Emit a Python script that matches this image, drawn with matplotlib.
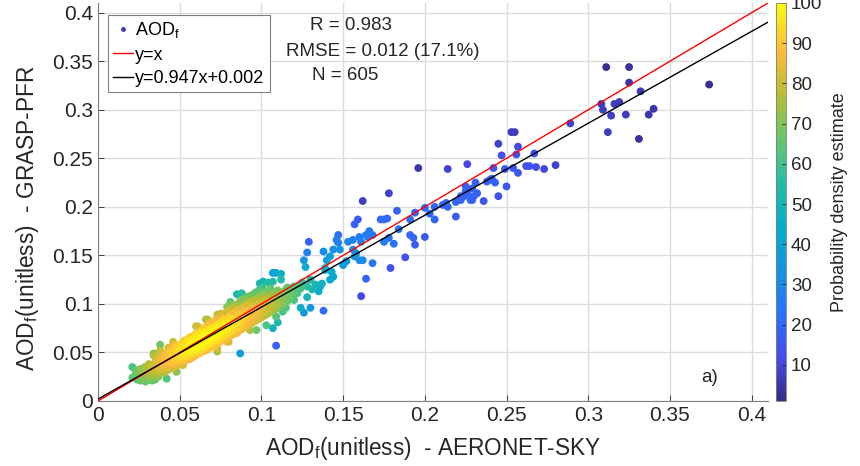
import numpy as np
import matplotlib
matplotlib.use("Agg")
import matplotlib.pyplot as plt
from matplotlib.colors import LinearSegmentedColormap, Normalize
from matplotlib.ticker import FuncFormatter
from matplotlib.lines import Line2D

plt.rcParams['font.family'] = ['Liberation Sans', 'DejaVu Sans']
plt.rcParams['mathtext.fontset'] = 'custom'
plt.rcParams['mathtext.rm'] = 'Liberation Sans'
plt.rcParams['mathtext.it'] = 'Liberation Sans'

# ---------------- data ----------------
# sparse points: AERONET-SKY (x) and GRASP-PFR (y)
sparse_x = [0.374, 0.311, 0.325, 0.325, 0.332, 0.308, 0.309, 0.316, 0.319, 0.314, 0.323, 0.337, 0.340, 0.312, 0.331, 0.289,
            0.253, 0.255, 0.245, 0.257, 0.247, 0.256, 0.267, 0.214, 0.226, 0.242, 0.249, 0.254, 0.257, 0.262, 0.264, 0.268, 0.273, 0.280,
            0.238, 0.240, 0.243, 0.241, 0.231, 0.225, 0.232, 0.230, 0.228, 0.225, 0.224, 0.250, 0.245, 0.236, 0.219, 0.222, 0.211, 0.214, 0.219,
            0.196, 0.178, 0.162, 0.183, 0.194, 0.200, 0.206, 0.213, 0.203, 0.206, 0.222, 0.226, 0.229, 0.229, 0.191, 0.175, 0.177, 0.173,
            0.157, 0.159, 0.166, 0.168, 0.164, 0.165, 0.184, 0.191, 0.193, 0.200, 0.194, 0.181, 0.175, 0.178, 0.160, 0.161, 0.156, 0.153,
            0.147, 0.146, 0.144, 0.148, 0.138, 0.156, 0.158, 0.157, 0.160, 0.162, 0.168, 0.188, 0.179, 0.164, 0.150, 0.152, 0.142, 0.140,
            0.139, 0.161, 0.147,
            0.129, 0.128, 0.126, 0.127, 0.107, 0.109, 0.112, 0.101, 0.104, 0.099, 0.120, 0.122, 0.128, 0.136, 0.135, 0.137, 0.142, 0.144,
            0.143, 0.139, 0.138, 0.124, 0.130, 0.126, 0.115, 0.113, 0.107, 0.103, 0.097, 0.109, 0.088, 0.087, 0.082, 0.067, 0.061, 0.038,
            0.042, 0.023, 0.110, 0.085, 0.035, 0.130, 0.133, 0.131, 0.128, 0.125,
            0.021, 0.024, 0.027, 0.032, 0.036, 0.048, 0.052, 0.062, 0.073, 0.079, 0.034, 0.046, 0.073, 0.079, 0.075, 0.081, 0.091, 0.099,
            0.100, 0.107, 0.112, 0.120, 0.073, 0.080, 0.085, 0.093, 0.109, 0.060, 0.066]
sparse_y = [0.326, 0.344, 0.344, 0.328, 0.319, 0.306, 0.300, 0.306, 0.308, 0.294, 0.295, 0.295, 0.301, 0.277, 0.270, 0.286,
            0.277, 0.277, 0.265, 0.262, 0.253, 0.254, 0.255, 0.239, 0.244, 0.240, 0.239, 0.240, 0.235, 0.242, 0.242, 0.241, 0.239, 0.243,
            0.226, 0.228, 0.225, 0.229, 0.225, 0.221, 0.214, 0.211, 0.207, 0.216, 0.211, 0.221, 0.211, 0.206, 0.205, 0.207, 0.202, 0.200, 0.190,
            0.240, 0.214, 0.206, 0.196, 0.194, 0.199, 0.200, 0.204, 0.193, 0.187, 0.211, 0.214, 0.219, 0.207, 0.187, 0.187, 0.188, 0.187,
            0.182, 0.187, 0.175, 0.171, 0.171, 0.169, 0.177, 0.171, 0.168, 0.169, 0.161, 0.162, 0.164, 0.168, 0.169, 0.164, 0.166, 0.164,
            0.171, 0.166, 0.156, 0.156, 0.154, 0.156, 0.152, 0.149, 0.145, 0.145, 0.142, 0.148, 0.137, 0.126, 0.140, 0.144, 0.149, 0.145,
            0.135, 0.108, 0.163,
            0.164, 0.153, 0.145, 0.138, 0.132, 0.132, 0.131, 0.123, 0.122, 0.121, 0.109, 0.111, 0.107, 0.118, 0.113, 0.121, 0.125, 0.128,
            0.133, 0.137, 0.093, 0.096, 0.096, 0.091, 0.096, 0.092, 0.075, 0.078, 0.073, 0.057, 0.111, 0.049, 0.100, 0.084, 0.077, 0.058,
            0.023, 0.032, 0.081, 0.110, 0.022, 0.125, 0.120, 0.115, 0.118, 0.122,
            0.035, 0.025, 0.022, 0.024, 0.027, 0.030, 0.037, 0.053, 0.051, 0.061, 0.049, 0.061, 0.089, 0.097, 0.090, 0.102, 0.107, 0.113,
            0.121, 0.123, 0.125, 0.118, 0.054, 0.061, 0.070, 0.073, 0.087, 0.077, 0.084]

# dense cluster (0.02 - 0.125)
dense_x = [0.021, 0.023,
           0.024, 0.023, 0.025,
           0.026, 0.027, 0.025, 0.026,
           0.028, 0.029, 0.027, 0.0285, 0.029,
           0.030, 0.031, 0.0295, 0.030, 0.031,
           0.032, 0.0315, 0.033, 0.032, 0.031, 0.033,
           0.034, 0.035, 0.0335, 0.034, 0.035, 0.034,
           0.036, 0.0365, 0.035, 0.037, 0.036, 0.0355, 0.037,
           0.038, 0.039, 0.0375, 0.038, 0.039, 0.037, 0.038,
           0.040, 0.041, 0.0395, 0.040, 0.041, 0.0405, 0.039,
           0.042, 0.0425, 0.041, 0.043, 0.042, 0.0415, 0.043,
           0.044, 0.045, 0.0435, 0.044, 0.045, 0.044, 0.0445,
           0.046, 0.0465, 0.045, 0.047, 0.046, 0.0455, 0.047,
           0.048, 0.049, 0.0475, 0.048, 0.049, 0.048, 0.0485,
           0.050, 0.0505, 0.049, 0.051, 0.050, 0.0495, 0.051,
           0.052, 0.053, 0.0515, 0.052, 0.053, 0.052, 0.0525,
           0.054, 0.0545, 0.053, 0.055, 0.054, 0.0535, 0.055,
           0.056, 0.057, 0.0555, 0.056, 0.057, 0.056, 0.0565,
           0.058, 0.0585, 0.057, 0.059, 0.058, 0.0575, 0.059,
           0.060, 0.061, 0.0595, 0.060, 0.061, 0.060, 0.0605,
           0.062, 0.0625, 0.061, 0.063, 0.062, 0.0615, 0.063,
           0.064, 0.065, 0.0635, 0.064, 0.065, 0.064, 0.0645,
           0.066, 0.0665, 0.065, 0.067, 0.066, 0.0655, 0.067,
           0.068, 0.069, 0.0675, 0.068, 0.069, 0.068, 0.0685,
           0.070, 0.0705, 0.069, 0.071, 0.070, 0.0695, 0.071,
           0.072, 0.073, 0.0715, 0.072, 0.073, 0.072, 0.0725,
           0.074, 0.0745, 0.073, 0.075, 0.074, 0.0735, 0.075,
           0.076, 0.077, 0.0755, 0.076, 0.077, 0.076, 0.0765,
           0.078, 0.0785, 0.077, 0.079, 0.078, 0.0775, 0.079,
           0.080, 0.081, 0.0795, 0.080, 0.081, 0.080, 0.0805,
           0.082, 0.0825, 0.081, 0.083, 0.082, 0.0815, 0.083,
           0.084, 0.085, 0.0835, 0.084, 0.085, 0.084, 0.0845,
           0.086, 0.0865, 0.085, 0.087, 0.086, 0.0855, 0.087,
           0.088, 0.089, 0.0875, 0.088, 0.089, 0.088, 0.0885,
           0.090, 0.0905, 0.089, 0.091, 0.090, 0.0895, 0.091,
           0.092, 0.093, 0.0915, 0.092, 0.093, 0.092, 0.0925,
           0.094, 0.0945, 0.093, 0.095, 0.094, 0.0935, 0.095,
           0.096, 0.097, 0.0955, 0.096, 0.097, 0.096, 0.0965,
           0.098, 0.0985, 0.097, 0.099, 0.098, 0.0975, 0.099,
           0.100, 0.101, 0.0995, 0.100, 0.101, 0.100, 0.1005,
           0.102, 0.1025, 0.101, 0.103, 0.102, 0.1015,
           0.104, 0.105, 0.1035, 0.104, 0.105, 0.104,
           0.106, 0.1065, 0.105, 0.107, 0.106, 0.1055,
           0.108, 0.109, 0.1075, 0.108, 0.109,
           0.110, 0.1105, 0.109, 0.111, 0.110,
           0.112, 0.113, 0.1115, 0.112,
           0.114, 0.1145, 0.113, 0.115,
           0.116, 0.117, 0.1155, 0.116,
           0.118, 0.1185, 0.117,
           0.120, 0.121, 0.1195,
           0.122, 0.1225,
           0.124, 0.125]
dense_y = [0.024, 0.028,
           0.022, 0.026, 0.030,
           0.021, 0.025, 0.029, 0.033,
           0.023, 0.027, 0.031, 0.035, 0.020,
           0.022, 0.026, 0.029, 0.032, 0.036,
           0.024, 0.028, 0.031, 0.034, 0.038, 0.021,
           0.026, 0.030, 0.033, 0.036, 0.040, 0.047,
           0.028, 0.031, 0.034, 0.037, 0.041, 0.044, 0.025,
           0.030, 0.033, 0.036, 0.039, 0.042, 0.046, 0.052,
           0.029, 0.034, 0.037, 0.040, 0.043, 0.047, 0.050,
           0.031, 0.035, 0.038, 0.041, 0.044, 0.048, 0.055,
           0.033, 0.037, 0.040, 0.043, 0.046, 0.050, 0.053,
           0.034, 0.038, 0.041, 0.044, 0.047, 0.051, 0.058,
           0.036, 0.040, 0.043, 0.046, 0.049, 0.052, 0.056,
           0.038, 0.042, 0.045, 0.048, 0.051, 0.054, 0.059,
           0.040, 0.044, 0.047, 0.050, 0.053, 0.057, 0.062,
           0.042, 0.046, 0.049, 0.052, 0.055, 0.059, 0.064,
           0.043, 0.047, 0.051, 0.054, 0.057, 0.061, 0.066,
           0.045, 0.049, 0.053, 0.056, 0.059, 0.063, 0.068,
           0.047, 0.051, 0.055, 0.058, 0.061, 0.065, 0.070,
           0.049, 0.053, 0.057, 0.060, 0.063, 0.067, 0.072,
           0.051, 0.055, 0.059, 0.062, 0.065, 0.069, 0.075,
           0.052, 0.057, 0.061, 0.064, 0.067, 0.071, 0.078,
           0.054, 0.059, 0.063, 0.066, 0.069, 0.073, 0.080,
           0.056, 0.061, 0.065, 0.068, 0.071, 0.075, 0.082,
           0.058, 0.063, 0.067, 0.070, 0.073, 0.077, 0.085,
           0.060, 0.065, 0.069, 0.072, 0.075, 0.079, 0.087,
           0.062, 0.067, 0.071, 0.074, 0.078, 0.082, 0.090,
           0.064, 0.069, 0.073, 0.076, 0.080, 0.084, 0.092,
           0.066, 0.071, 0.075, 0.078, 0.082, 0.086, 0.094,
           0.068, 0.073, 0.077, 0.080, 0.084, 0.089, 0.096,
           0.070, 0.075, 0.079, 0.082, 0.086, 0.091, 0.099,
           0.072, 0.077, 0.081, 0.085, 0.089, 0.094, 0.103,
           0.074, 0.079, 0.083, 0.087, 0.091, 0.096, 0.105,
           0.076, 0.081, 0.085, 0.089, 0.093, 0.098, 0.104,
           0.078, 0.083, 0.087, 0.091, 0.095, 0.100, 0.108,
           0.080, 0.085, 0.089, 0.093, 0.097, 0.102, 0.110,
           0.082, 0.087, 0.091, 0.095, 0.099, 0.104, 0.112,
           0.084, 0.089, 0.093, 0.097, 0.101, 0.106, 0.115,
           0.086, 0.091, 0.095, 0.099, 0.103, 0.108, 0.117,
           0.088, 0.093, 0.097, 0.101, 0.105, 0.110,
           0.090, 0.095, 0.099, 0.103, 0.107, 0.113,
           0.092, 0.097, 0.101, 0.105, 0.109, 0.116,
           0.094, 0.099, 0.103, 0.107, 0.111,
           0.096, 0.101, 0.105, 0.109, 0.114,
           0.099, 0.104, 0.108, 0.112,
           0.101, 0.106, 0.110, 0.115,
           0.103, 0.108, 0.112, 0.117,
           0.106, 0.110, 0.114,
           0.104, 0.112, 0.116,
           0.114, 0.118,
           0.116, 0.120]

# the crowded core of the cluster (0.035 - 0.065)
core_x = [0.036, 0.037, 0.038, 0.039, 0.040, 0.041, 0.042, 0.043, 0.044, 0.045,
          0.046, 0.047, 0.048, 0.049, 0.050, 0.051, 0.052, 0.053, 0.054, 0.055,
          0.056, 0.057, 0.058, 0.059, 0.060, 0.061, 0.062, 0.063, 0.064, 0.065,
          0.0365, 0.0385, 0.0405, 0.0425, 0.0445, 0.0465, 0.0485, 0.0505, 0.0525, 0.0545,
          0.0375, 0.0395, 0.0415, 0.0435, 0.0455, 0.0475, 0.0495, 0.0515, 0.0535, 0.0555,
          0.0575, 0.0595, 0.0615, 0.0635, 0.0565, 0.0585, 0.0605, 0.0625, 0.033, 0.035]
core_y = [0.036, 0.039, 0.035, 0.040, 0.038, 0.042, 0.040, 0.045, 0.042, 0.047,
          0.045, 0.049, 0.047, 0.050, 0.047, 0.052, 0.049, 0.054, 0.051, 0.056,
          0.053, 0.058, 0.055, 0.060, 0.057, 0.062, 0.059, 0.064, 0.061, 0.066,
          0.043, 0.045, 0.046, 0.049, 0.051, 0.054, 0.055, 0.057, 0.058, 0.061,
          0.032, 0.034, 0.036, 0.038, 0.040, 0.042, 0.044, 0.046, 0.047, 0.049,
          0.051, 0.053, 0.055, 0.057, 0.063, 0.065, 0.067, 0.069, 0.035, 0.038]

fit_slope = 0.947
fit_intercept = 0.002
stats_lines = ["R = 0.983", "RMSE = 0.012 (17.1%)", "N = 605"]
cbar_ticks = [10, 20, 30, 40, 50, 60, 70, 80, 90, 100]
axis_ticks = [0, 0.05, 0.1, 0.15, 0.2, 0.25, 0.3, 0.35, 0.4]

# ---------------- density (from the data) ----------------
x = np.array(sparse_x + dense_x + core_x)
y = np.array(sparse_y + dense_y + core_y)
# kernel density in coordinates along / across the 1:1 line
u = (x + y) / np.sqrt(2)
v = (y - x) / np.sqrt(2)
hu, hv = 0.045, 0.016
q = ((u[:, None] - u[None, :]) / hu) ** 2 + ((v[:, None] - v[None, :]) / hv) ** 2
dens = np.exp(-0.5 * q).sum(axis=1)
dens = 100 * (dens / dens.max()) ** 0.85
order = np.argsort(dens)

parula_like = LinearSegmentedColormap.from_list("parula_like", [
    (0.00, (0.21, 0.17, 0.53)),
    (0.11, (0.27, 0.30, 0.92)),
    (0.22, (0.16, 0.45, 0.98)),
    (0.33, (0.08, 0.58, 0.88)),
    (0.44, (0.02, 0.68, 0.80)),
    (0.55, (0.15, 0.74, 0.64)),
    (0.66, (0.40, 0.78, 0.42)),
    (0.77, (0.72, 0.75, 0.20)),
    (0.88, (0.99, 0.73, 0.24)),
    (1.00, (0.98, 0.98, 0.06)),
])
norm = Normalize(vmin=1, vmax=100)

# ---------------- figure ----------------
fig = plt.figure(figsize=(8.6, 4.66), dpi=100)
ax = fig.add_axes([98 / 860, 65 / 466, 670 / 860, 398 / 466])
cax = fig.add_axes([776 / 860, 65 / 466, 10 / 860, 398 / 466])

sc = ax.scatter(x[order], y[order], c=dens[order], cmap=parula_like, norm=norm,
                s=32, edgecolors='none', zorder=3)

lx = np.array([0, 0.41])
ax.plot(lx, lx, color='red', lw=1.0, zorder=4)
ax.plot(lx, fit_slope * lx + fit_intercept, color='black', lw=1.0, zorder=4)

ax.set_xlim(0, 0.41)
ax.set_ylim(0, 0.41)
ax.set_xticks(axis_ticks)
ax.set_yticks(axis_ticks)
fmt = FuncFormatter(lambda val, p: "%g" % round(val, 3))
ax.xaxis.set_major_formatter(fmt)
ax.yaxis.set_major_formatter(fmt)
ax.tick_params(direction='in', length=4, labelsize=15, colors='#262626', width=0.6)
ax.grid(True, color='#dcdcdc', lw=1.0, zorder=0)
ax.set_axisbelow(True)
for s in ['top', 'right']:
    ax.spines[s].set_visible(False)
for s in ['left', 'bottom']:
    ax.spines[s].set_color('#808080')
    ax.spines[s].set_linewidth(0.8)

ax.set_xlabel(r"AOD$_\mathregular{f}$(unitless)  - AERONET-SKY", fontsize=16.3, color='#262626')
ax.set_ylabel(r"AOD$_\mathregular{f}$(unitless)  - GRASP-PFR", fontsize=16.3, color='#262626')
ax.xaxis.set_label_coords(0.5, -0.085)
ax.yaxis.set_label_coords(-0.085, 0.46)

ax.text(0.155, 0.387, stats_lines[0], fontsize=13.5, ha='center', va='center', color='#262626')
ax.text(0.174, 0.360, stats_lines[1], fontsize=13.5, ha='center', va='center', color='#262626')
ax.text(0.151, 0.335, stats_lines[2], fontsize=13.5, ha='center', va='center', color='#262626')
ax.text(0.3745, 0.0237, "a)", fontsize=13.5, ha='center', va='center', color='#262626')

handles = [
    Line2D([], [], linestyle='none', marker='.', markersize=5, color=parula_like(0.05)),
    Line2D([], [], color='red', lw=1.0),
    Line2D([], [], color='black', lw=1.0),
]
labels = [r"AOD$_\mathregular{f}$", "y=x", "y=0.947x+0.002"]
leg = ax.legend(handles, labels, loc='upper left', bbox_to_anchor=(0.015, 0.97), borderaxespad=0,
                fontsize=13, frameon=True, fancybox=False, framealpha=1, edgecolor='#808080',
                handlelength=1.1, handletextpad=0.1, labelspacing=0.35, borderpad=0.3)
leg.get_frame().set_linewidth(0.8)
leg.set_zorder(10)

cb = fig.colorbar(sc, cax=cax, ticks=cbar_ticks)
cb.outline.set_edgecolor('#808080')
cb.outline.set_linewidth(0.6)
cb.ax.tick_params(labelsize=13.5, direction='in', length=3, colors='#262626', width=0.6)
cb.set_label("Probability density estimate", fontsize=13, color='#262626', labelpad=6)

fig.savefig("out.png", dpi=100)
